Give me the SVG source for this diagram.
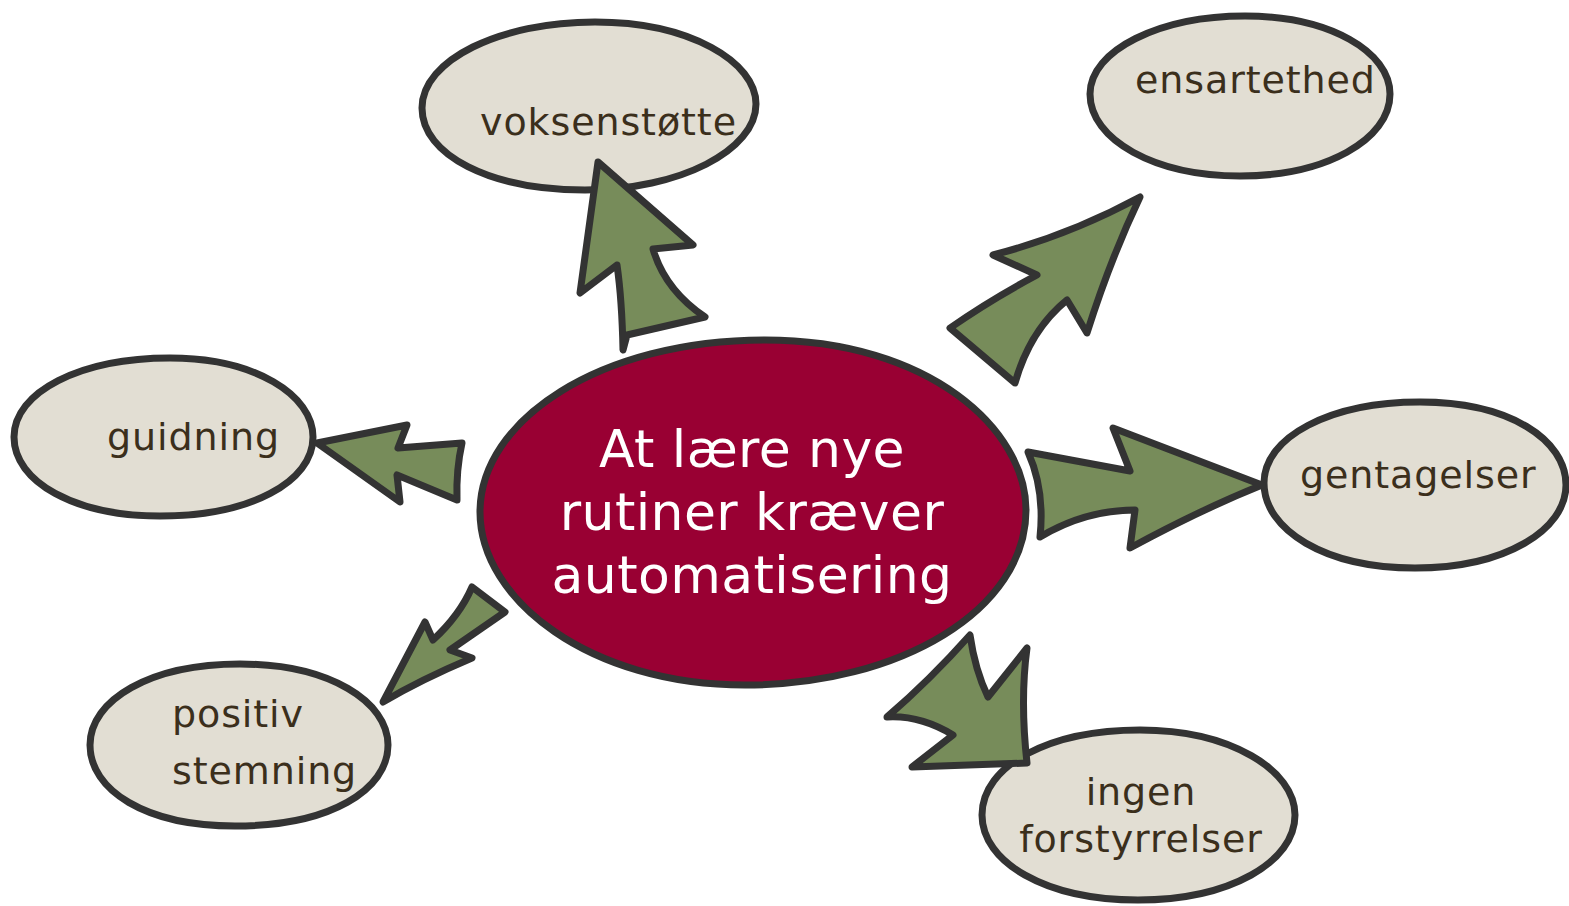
<svg xmlns="http://www.w3.org/2000/svg" width="1569" height="906" viewBox="0 0 1569 906">
<style>
.node{fill:#e2ded3;stroke:#333333;stroke-width:7;stroke-linejoin:round}
.center{fill:#990033;stroke:#333333;stroke-width:7;stroke-linejoin:round}
.lbl{font-family:"DejaVu Sans","Liberation Sans",sans-serif;font-size:38px;letter-spacing:0.9px;fill:#3b2f1c}
.clbl{font-family:"DejaVu Sans","Liberation Sans",sans-serif;font-size:52px;letter-spacing:0.4px;fill:#ffffff;text-anchor:middle}
.arr{fill:#778c5a;stroke:#333333;stroke-width:7;stroke-linejoin:round;stroke-linecap:round}
</style>
<rect width="1569" height="906" fill="#ffffff"/>
<g id="node-voksenstotte">
<path class="node" d="M422,108 C422,60 500,22 595,22 C690,22 756,62 756,104 C756,150 680,190 585,190 C490,190 422,155 422,108 Z"/>
<text class="lbl" x="480" y="135">voksenstøtte</text>
</g>
<g id="node-ensartethed">
<path class="node" d="M1090,94 C1090,50 1160,16 1245,16 C1330,16 1390,52 1390,94 C1390,140 1325,176 1240,176 C1155,176 1090,140 1090,94 Z"/>
<text class="lbl" x="1135" y="93">ensartethed</text>
</g>
<g id="node-guidning">
<path class="node" d="M14,437 C14,392 80,358 170,358 C255,358 313,395 313,437 C313,482 250,516 160,516 C75,516 14,482 14,437 Z"/>
<text class="lbl" x="107" y="450">guidning</text>
</g>
<g id="node-gentagelser">
<path class="node" d="M1264,483 C1264,437 1330,402 1420,402 C1510,402 1566,440 1566,485 C1566,530 1505,568 1415,568 C1325,568 1264,530 1264,483 Z"/>
<text class="lbl" x="1300" y="488">gentagelser</text>
</g>
<g id="node-positiv">
<path class="node" d="M90,745 C90,700 150,664 240,664 C330,664 388,702 388,745 C388,790 330,826 235,826 C145,826 90,790 90,745 Z"/>
<text class="lbl" x="172" y="727">positiv</text>
<text class="lbl" x="172" y="784">stemning</text>
</g>
<g id="node-ingen">
<path class="node" d="M982,815 C982,765 1050,730 1140,730 C1230,730 1295,770 1295,815 C1295,862 1230,900 1138,900 C1045,900 982,862 982,815 Z"/>
<text class="lbl" x="1141" y="805" text-anchor="middle">ingen</text>
<text class="lbl" x="1141" y="852" text-anchor="middle">forstyrrelser</text>
</g>
<g id="node-center">
<path class="center" d="M480,512 C480,420 600,340 765,340 C930,340 1026,430 1026,510 C1026,610 900,685 745,685 C590,685 480,600 480,512 Z"/>
<text class="clbl" x="752" y="467">At lære nye</text>
<text class="clbl" x="752" y="530">rutiner kræver</text>
<text class="clbl" x="752" y="593">automatisering</text>
</g>
<g id="connectors">
<path class="arr" d="M598,162 L693,245 L653,249 Q665,290 705,317 L627,335 L623,350 Q622,300 617,265 L580,293 Q590,220 598,162 Z"/>
<path class="arr" d="M1140,197 Q1110,260 1087,333 L1067,300 Q1030,330 1015,383 L950,328 Q990,300 1037,275 L993,255 Q1070,235 1140,197 Z"/>
<path class="arr" d="M1262,485 L1113,428 L1130,471 L1028,452 Q1045,490 1040,537 Q1085,510 1135,510 L1130,548 Q1200,510 1262,485 Z"/>
<path class="arr" d="M970,635 Q975,670 988,697 L1027,648 Q1020,700 1027,763 L912,767 L953,735 Q920,715 887,717 Q930,680 970,635 Z"/>
<path class="arr" d="M472,587 L505,612 L450,650 L472,658 Q420,680 383,702 L425,622 L433,640 Q460,615 472,587 Z"/>
<path class="arr" d="M317,443 L407,425 L398,448 L462,443 Q456,470 457,500 L397,475 L400,502 Q355,470 317,443 Z"/>
</g>
</svg>
